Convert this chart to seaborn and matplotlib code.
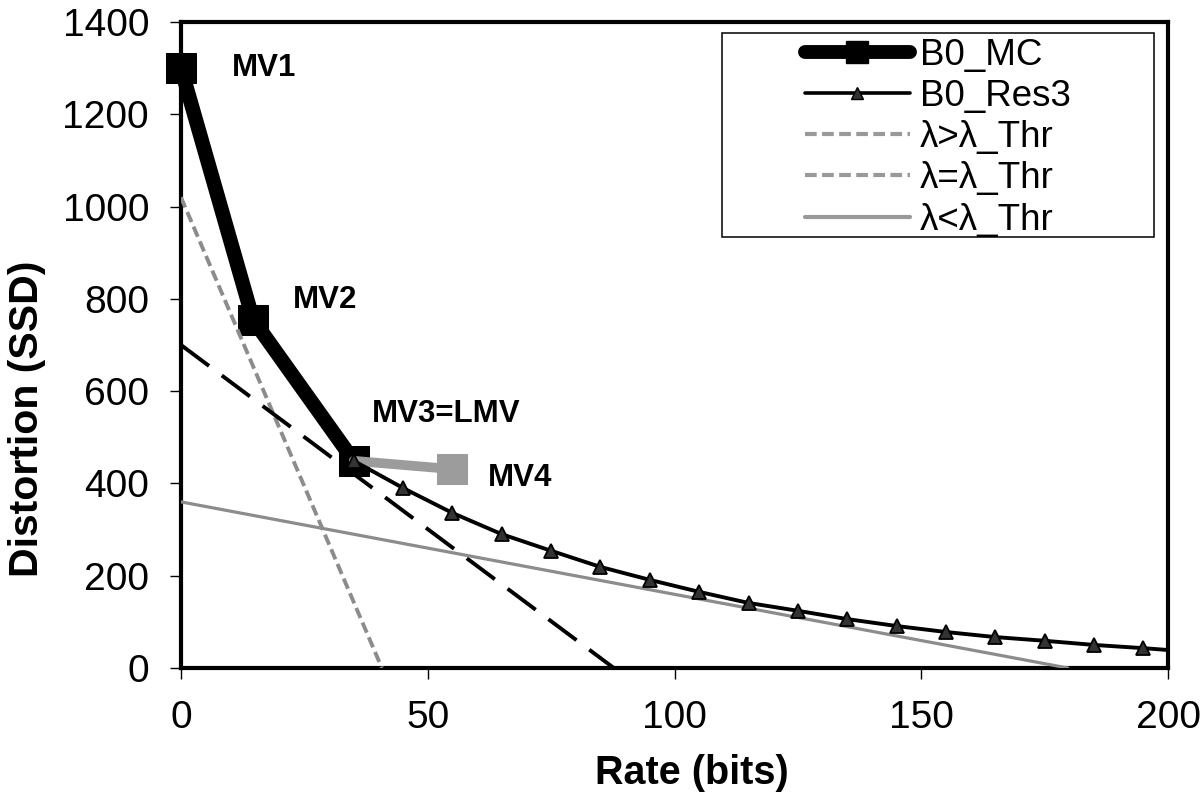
import numpy as np
import pandas as pd
import matplotlib
matplotlib.use("Agg")
import matplotlib.pyplot as plt
from matplotlib.lines import Line2D
from matplotlib.patches import Rectangle
import seaborn as sns

# B0_MC operating points (MV1..MV3) and the extra MV4 point
mc_rate = [0, 14.6, 35]
mc_dist = [1300, 755, 449]
mv4_rate = [35, 55]
mv4_dist = [449, 431]

# B0_Res3 curve
res_rate = [35, 45, 55, 65, 75, 85, 95, 105, 115, 125, 135, 145, 155, 165, 175, 185, 195, 200]
res_dist = [449, 390, 336, 290, 254, 219, 191, 165, 141, 124, 106, 91, 78, 67, 59, 50, 43, 39]
res_marker_count = 17

# lambda lines (start / end points)
lam_gt_rate = [0, 40.7]
lam_gt_dist = [1020, 0]
lam_eq_rate = [0, 87.7]
lam_eq_dist = [700, 0]
lam_lt_rate = [0, 179.7]
lam_lt_dist = [360, 0]

labels = ["MV1", "MV2", "MV3=LMV", "MV4"]
label_rate = [10.3, 22.7, 38.7, 62.2]
label_dist = [1300, 798, 550, 412]

sns.set_theme(style="white")
plt.rcParams["font.family"] = ["Liberation Sans", "DejaVu Sans"]
plt.rcParams["text.color"] = "black"
plt.rcParams["axes.labelcolor"] = "black"
plt.rcParams["xtick.color"] = "black"
plt.rcParams["ytick.color"] = "black"

fig = plt.figure(figsize=(12, 8.06), dpi=100)
ax = fig.add_axes([181 / 1200, 1 - 668 / 806, (1168 - 181) / 1200, (668 - 22) / 806])

GRAY = "#8c8c8c"
DASH_SHORT = (0, (2.8, 1.3))
DASH_LONG = (0, (9, 4.1))

sns.lineplot(x=mc_rate, y=mc_dist, ax=ax, color="black", lw=10.5,
             marker="s", markersize=22, markeredgecolor="black",
             clip_on=False, zorder=2)

sns.lineplot(x=mv4_rate, y=mv4_dist, ax=ax, color="#9c9c9c", lw=7,
             marker="s", markersize=21, markeredgecolor="#9c9c9c",
             markevery=[1], zorder=3)

sns.lineplot(x=lam_gt_rate, y=lam_gt_dist, ax=ax, color=GRAY, lw=2.8,
             linestyle=DASH_SHORT, zorder=4)
sns.lineplot(x=lam_eq_rate, y=lam_eq_dist, ax=ax, color="black", lw=2.8,
             linestyle=DASH_LONG, zorder=4)
sns.lineplot(x=lam_lt_rate, y=lam_lt_dist, ax=ax, color=GRAY, lw=2.3, zorder=4)

sns.lineplot(x=res_rate, y=res_dist, ax=ax, color="black", lw=2.8,
             marker="^", markersize=10, markerfacecolor="#333333",
             markeredgecolor="black", markeredgewidth=1.3,
             markevery=list(range(res_marker_count)), zorder=5)

for t, x, y in zip(labels, label_rate, label_dist):
    ax.text(x, y, t, fontsize=22.5, fontweight="bold", va="center", ha="left")

ax.set_xlim(0, 200)
ax.set_ylim(0, 1400)
ax.set_xticks([0, 50, 100, 150, 200])
ax.set_yticks(range(0, 1401, 200))
ax.tick_params(axis="both", labelsize=28, direction="out", length=8, width=1,
               bottom=True, left=True)
ax.tick_params(axis="x", pad=15)
ax.tick_params(axis="y", pad=15)
for s in ax.spines.values():
    s.set_linewidth(3)
    s.set_color("black")
ax.set_xlabel("Rate (bits)", fontsize=28.5, fontweight="bold", labelpad=13)
ax.set_ylabel("Distortion (SSD)", fontsize=29.5, fontweight="bold", labelpad=12)
ax.xaxis.label.set_x(0.518)
ax.yaxis.label.set_y(0.385)

# legend frame drawn separately (the original box has a wide left margin)
ax.add_patch(Rectangle((0.548, 0.667), 0.438, 0.316, transform=ax.transAxes,
                       fill=True, facecolor="white", edgecolor="black",
                       lw=1.1, zorder=6))

handles = [
    Line2D([], [], color="black", lw=10, marker="s", markersize=16,
           solid_capstyle="round"),
    Line2D([], [], color="black", lw=2.6, marker="^", markersize=9,
           markerfacecolor="#333333", markeredgecolor="black"),
    Line2D([], [], color="#999999", lw=3, linestyle=DASH_SHORT),
    Line2D([], [], color="#999999", lw=3, linestyle=DASH_SHORT),
    Line2D([], [], color="#999999", lw=3),
]
names = ["B0_MC", "B0_Res3", "λ>λ_Thr", "λ=λ_Thr", "λ<λ_Thr"]
leg = ax.legend(handles, names, loc="upper left", bbox_to_anchor=(0.632, 0.976),
                fontsize=26.5, frameon=False, handlelength=2.85,
                labelspacing=0.17, borderpad=0, borderaxespad=0,
                handletextpad=0.28)
leg.set_zorder(7)

fig.savefig("out.png", dpi=100)
